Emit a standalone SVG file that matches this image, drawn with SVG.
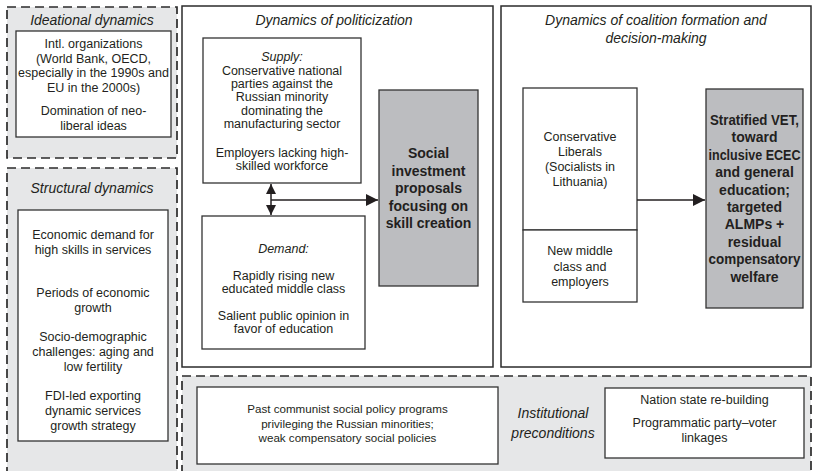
<svg xmlns="http://www.w3.org/2000/svg" width="816" height="471" viewBox="0 0 816 471">
<style>
text{font-family:"Liberation Sans",Arial,sans-serif;fill:#231f20;text-anchor:middle}
.b{font-size:12.5px}
.s{font-size:11.6px}
.t{font-size:14px;font-style:italic}
.i{font-style:italic}
.bd{font-size:14px;font-weight:bold}
.dash{fill:#e6e7e8;stroke:#2b2b2b;stroke-width:1.7;stroke-dasharray:9 5}
.box{fill:#fff;stroke:#333;stroke-width:1.3}
.frame{fill:#fff;stroke:#2b2b2b;stroke-width:1.5}
.gray{fill:#bcbdc0;stroke:#333;stroke-width:1.3}
.ln{stroke:#231f20;stroke-width:1.5;fill:none}
</style>
<defs>
<marker id="ah" viewBox="0 0 10 10" refX="10" refY="5" markerWidth="10" markerHeight="10" markerUnits="userSpaceOnUse" orient="auto-start-reverse">
<path d="M0,0 L10,5 L0,10 z" fill="#231f20"/>
</marker>
<marker id="ah2" viewBox="0 0 12 12" refX="12" refY="6" markerWidth="12" markerHeight="12" markerUnits="userSpaceOnUse" orient="auto-start-reverse">
<path d="M0,0 L12,6 L0,12 z" fill="#231f20"/>
</marker>
</defs>
<rect width="816" height="471" fill="#fff"/>

<g id="ideational">
<rect class="dash" x="7" y="7" width="170" height="151"/>
<text class="t" x="92" y="25">Ideational dynamics</text>
<rect class="box" x="16" y="31" width="155" height="106"/>
<text class="b" x="93.5" y="48">Intl. organizations</text>
<text class="b" x="93.5" y="62.5">(World Bank, OECD,</text>
<text class="b" x="93.5" y="77">especially in the 1990s and</text>
<text class="b" x="93.5" y="91.5">EU in the 2000s)</text>
<text class="b" x="93.5" y="115">Domination  of neo-</text>
<text class="b" x="93.5" y="129.5">liberal ideas</text>
</g>

<g id="structural">
<rect class="dash" x="7" y="168" width="170" height="320"/>
<text class="t" x="92" y="193">Structural dynamics</text>
<rect class="box" x="18" y="210" width="150" height="231"/>
<text class="b" x="93" y="239">Economic demand for</text>
<text class="b" x="93" y="253.5">high skills in services</text>
<text class="b" x="93" y="297">Periods of economic</text>
<text class="b" x="93" y="311.5">growth</text>
<text class="b" x="93" y="341">Socio-demographic</text>
<text class="b" x="93" y="356">challenges: aging and</text>
<text class="b" x="93" y="371">low fertility</text>
<text class="b" x="93" y="400">FDI-led exporting</text>
<text class="b" x="93" y="415">dynamic services</text>
<text class="b" x="93" y="429.5">growth strategy</text>
</g>

<g id="politicization">
<rect class="frame" x="182" y="6" width="311" height="361"/>
<text class="t" x="334" y="25">Dynamics of politicization</text>
</g>

<g id="supply">
<rect class="box" x="203" y="38" width="158" height="145"/>
<text class="b i" x="282" y="61">Supply:</text>
<text class="b" x="282" y="75">Conservative national</text>
<text class="b" x="282" y="88">parties against the</text>
<text class="b" x="282" y="101">Russian minority</text>
<text class="b" x="282" y="114.5">dominating the</text>
<text class="b" x="282" y="128">manufacturing sector</text>
<text class="b" x="282" y="157">Employers lacking high-</text>
<text class="b" x="282" y="170">skilled workforce</text>
</g>

<g id="demand">
<rect class="box" x="202" y="216" width="163" height="133"/>
<text class="b i" x="283.5" y="253">Demand:</text>
<text class="b" x="283.5" y="280">Rapidly rising new</text>
<text class="b" x="283.5" y="293">educated middle class</text>
<text class="b" x="283.5" y="320">Salient public opinion in</text>
<text class="b" x="283.5" y="333">favor of education</text>
</g>

<g id="social-investment">
<rect class="gray" x="379" y="90" width="99" height="196"/>
<text class="bd" x="428.5" y="158">Social</text>
<text class="bd" x="428.5" y="175.5">investment</text>
<text class="bd" x="428.5" y="193">proposals</text>
<text class="bd" x="428.5" y="210.5">focusing on</text>
<text class="bd" x="428.5" y="228">skill creation</text>
</g>

<g id="coalition">
<rect class="frame" x="501" y="6" width="310" height="361"/>
<text class="t" x="656" y="25">Dynamics of coalition formation and</text>
<text class="t" x="656" y="43">decision-making</text>
</g>

<g id="conservative-liberals">
<rect class="box" x="523" y="88" width="114" height="142"/>
<text class="b" x="580" y="140.5">Conservative</text>
<text class="b" x="580" y="155.5">Liberals</text>
<text class="b" x="580" y="170.5">(Socialists in</text>
<text class="b" x="580" y="185.5">Lithuania)</text>
</g>

<g id="new-middle-class">
<rect class="box" x="523" y="230" width="114" height="72"/>
<text class="b" x="580" y="255">New middle</text>
<text class="b" x="580" y="271">class and</text>
<text class="b" x="580" y="286">employers</text>
</g>

<g id="outcome">
<rect class="gray" x="706" y="89" width="97" height="219"/>
<text class="bd" x="754.5" y="125" textLength="89" lengthAdjust="spacingAndGlyphs">Stratified VET,</text>
<text class="bd" x="754.5" y="142.4">toward</text>
<text class="bd" x="754.5" y="159.8" textLength="92" lengthAdjust="spacingAndGlyphs">inclusive ECEC</text>
<text class="bd" x="754.5" y="177.2">and general</text>
<text class="bd" x="754.5" y="194.6">education;</text>
<text class="bd" x="754.5" y="212">targeted</text>
<text class="bd" x="754.5" y="229.4">ALMPs +</text>
<text class="bd" x="754.5" y="246.8">residual</text>
<text class="bd" x="754.5" y="264.2" textLength="92" lengthAdjust="spacingAndGlyphs">compensatory</text>
<text class="bd" x="754.5" y="281.6">welfare</text>
</g>

<g id="institutional">
<rect class="dash" x="182" y="376" width="629" height="120"/>
<text class="t" x="553" y="418">Institutional</text>
<text class="t" x="553" y="438">preconditions</text>
</g>

<g id="past-communist">
<rect class="box" x="197" y="387" width="301" height="77"/>
<text class="s" x="347.5" y="413">Past communist social policy programs</text>
<text class="s" x="347.5" y="427.5">privileging the Russian minorities;</text>
<text class="s" x="347.5" y="442">weak compensatory social policies</text>
</g>

<g id="nation-state">
<rect class="box" x="605" y="388" width="199" height="70"/>
<text class="b" x="704.5" y="404">Nation state re-building</text>
<text class="b" x="704.5" y="427">Programmatic party–voter</text>
<text class="b" x="704.5" y="442">linkages</text>
</g>

<g id="connectors">
<line class="ln" x1="271" y1="184" x2="271" y2="215" marker-start="url(#ah)" marker-end="url(#ah)"/>
<line class="ln" x1="271" y1="200" x2="378" y2="200" marker-end="url(#ah2)"/>
<line class="ln" x1="637" y1="200" x2="705" y2="200" marker-end="url(#ah2)"/>
</g>
</svg>
